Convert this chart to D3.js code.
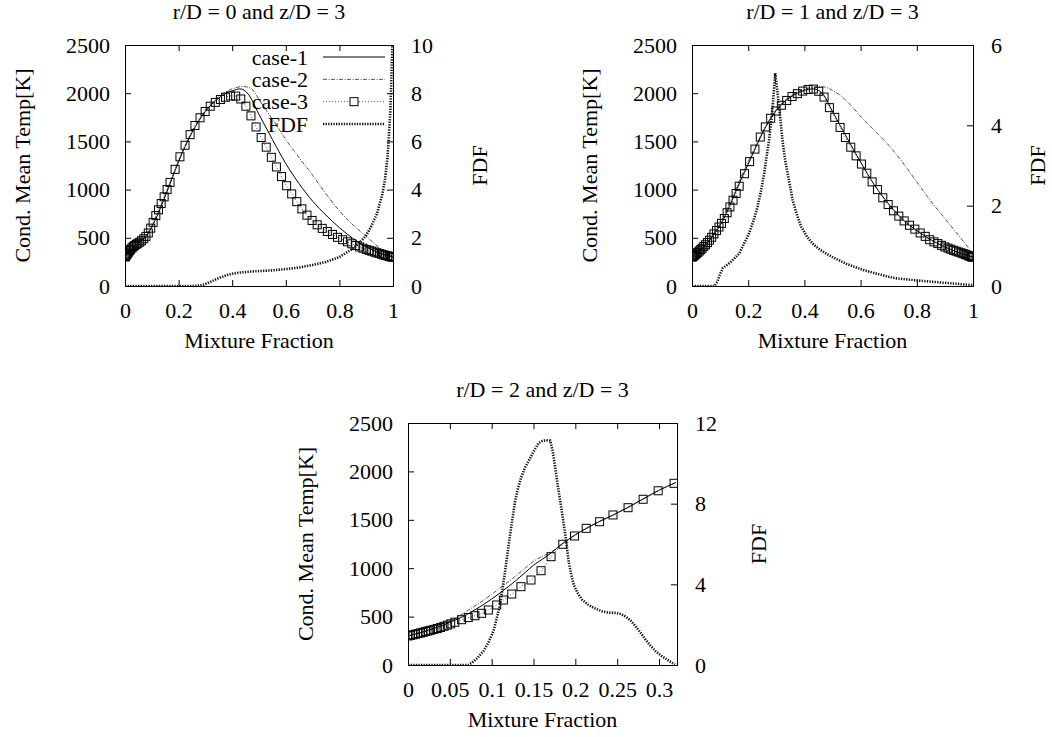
<!DOCTYPE html>
<html>
<head>
<meta charset="utf-8">
<script src="https://cdn.jsdelivr.net/npm/d3@7"></script>
<style>
  body { margin: 0; background: #fff; }
  svg text { font-family: "Liberation Serif", "Times New Roman", serif; font-size: 22px; fill: #000; }
</style>
</head>
<body>
<div id="chart"></div>
<script>
// mixture fraction grid of the case-3 points (top panels)
const zGridTop = [0, 0.002, 0.004, 0.007, 0.01, 0.013, 0.017, 0.021, 0.026, 0.031, 0.036, 0.042, 0.048, 0.055,
  0.062, 0.07, 0.078, 0.087, 0.096, 0.105, 0.115, 0.125, 0.135, 0.146, 0.157, 0.168, 0.187, 0.205, 0.224,
  0.243, 0.261, 0.28, 0.299, 0.318, 0.337, 0.356, 0.375, 0.394, 0.413, 0.432, 0.451, 0.47, 0.489, 0.508,
  0.527, 0.546, 0.565, 0.584, 0.603, 0.622, 0.641, 0.66, 0.679, 0.698, 0.717, 0.736, 0.755, 0.774, 0.793,
  0.812, 0.83, 0.846, 0.861, 0.875, 0.888, 0.9, 0.911, 0.921, 0.931, 0.94, 0.949, 0.957, 0.965, 0.972,
  0.979, 0.985, 0.99, 0.994, 0.997, 1.0];

// r/D = 0
const p1Case3 = [300, 308, 316, 328, 340, 352, 366, 380, 395, 408, 420, 432, 443, 455, 470, 490, 515, 550,
  600, 660, 730, 790, 855, 925, 1000, 1075, 1210, 1340, 1460, 1570, 1665, 1745, 1810, 1865, 1905, 1935,
  1958, 1972, 1970, 1940, 1865, 1765, 1650, 1540, 1440, 1335, 1235, 1135, 1040, 955, 875, 800, 735, 680,
  635, 598, 565, 535, 505, 480, 458, 438, 420, 405, 392, 380, 370, 361, 352, 344, 337, 330, 323, 318, 313,
  308, 305, 302, 301, 300];
const p1Case1 = [[0, 300], [0.02, 360], [0.04, 420], [0.06, 460], [0.08, 520], [0.1, 610], [0.125, 760],
  [0.15, 930], [0.175, 1110], [0.2, 1290], [0.25, 1590], [0.3, 1810], [0.35, 1950], [0.4, 2025], [0.43, 2045],
  [0.46, 1990], [0.5, 1780], [0.55, 1520], [0.6, 1270], [0.65, 1060], [0.7, 880], [0.75, 735], [0.8, 605],
  [0.85, 495], [0.9, 405], [0.95, 342], [1, 300]];
const p1Case2 = [[0, 300], [0.02, 362], [0.04, 425], [0.06, 468], [0.08, 530], [0.1, 625], [0.125, 775],
  [0.15, 945], [0.175, 1125], [0.2, 1300], [0.25, 1600], [0.3, 1825], [0.35, 1965], [0.4, 2045], [0.44, 2070],
  [0.47, 2050], [0.5, 1935], [0.53, 1810], [0.56, 1690], [0.6, 1520], [0.65, 1330], [0.7, 1150], [0.75, 955],
  [0.8, 780], [0.85, 635], [0.9, 515], [0.95, 395], [0.98, 335], [1, 305]];
const p1Fdf = [[0, 0], [0.25, 0], [0.28, 0.02], [0.3, 0.08], [0.32, 0.18], [0.34, 0.28], [0.36, 0.37],
  [0.38, 0.45], [0.4, 0.51], [0.43, 0.56], [0.46, 0.59], [0.5, 0.62], [0.55, 0.65], [0.6, 0.7], [0.65, 0.77],
  [0.7, 0.87], [0.75, 1.0], [0.8, 1.2], [0.85, 1.55], [0.88, 1.85], [0.9, 2.1], [0.92, 2.5], [0.94, 3.0],
  [0.96, 3.8], [0.97, 4.4], [0.98, 5.4], [0.99, 7.2], [0.995, 9], [1, 11]];

// r/D = 1
const p2Case3 = [300, 304, 308, 315, 322, 330, 340, 350, 363, 377, 392, 410, 428, 450, 475, 505, 540, 575,
  612, 650, 700, 760, 820, 890, 960, 1035, 1165, 1290, 1420, 1545, 1650, 1740, 1815, 1875, 1925, 1965, 1995,
  2022, 2038, 2043, 2020, 1960, 1850, 1750, 1645, 1540, 1440, 1350, 1265, 1170, 1080, 1000, 915, 845, 780,
  725, 675, 630, 590, 550, 515, 480, 458, 440, 422, 405, 393, 381, 370, 361, 352, 344, 336, 328, 320, 313,
  307, 303, 301, 300];
const p2Case1 = [[0, 300], [0.03, 370], [0.06, 465], [0.08, 545], [0.1, 630], [0.125, 775], [0.15, 940],
  [0.175, 1110], [0.2, 1265], [0.225, 1425], [0.25, 1580], [0.275, 1715], [0.3, 1820], [0.325, 1900],
  [0.35, 1960], [0.375, 2000], [0.4, 2030], [0.43, 2045], [0.45, 2030], [0.47, 1975], [0.5, 1810],
  [0.55, 1545], [0.6, 1285], [0.65, 1045], [0.7, 850], [0.75, 690], [0.8, 575], [0.85, 480], [0.9, 405],
  [0.95, 345], [1, 300]];
const p2Case2 = [[0, 300], [0.03, 372], [0.06, 475], [0.08, 560], [0.1, 650], [0.125, 800], [0.15, 970],
  [0.175, 1135], [0.2, 1290], [0.25, 1590], [0.3, 1830], [0.35, 1970], [0.4, 2040], [0.45, 2068], [0.47, 2065],
  [0.5, 2030], [0.55, 1920], [0.6, 1760], [0.65, 1610], [0.7, 1460], [0.75, 1280], [0.8, 1080], [0.85, 880],
  [0.9, 700], [0.95, 520], [0.98, 410], [1, 330]];
const p2Fdf = [[0, 0], [0.08, 0], [0.09, 0.1], [0.1, 0.3], [0.11, 0.45], [0.12, 0.5], [0.135, 0.58],
  [0.15, 0.68], [0.168, 0.81], [0.185, 1.05], [0.203, 1.31], [0.22, 1.65], [0.233, 1.97], [0.245, 2.35],
  [0.257, 2.81], [0.265, 3.2], [0.274, 3.63], [0.282, 4.1], [0.289, 4.63], [0.296, 5.3], [0.303, 4.9],
  [0.31, 4.46], [0.322, 3.63], [0.33, 3.2], [0.34, 2.81], [0.35, 2.45], [0.358, 2.14], [0.372, 1.8],
  [0.388, 1.48], [0.41, 1.22], [0.429, 1.06], [0.45, 0.93], [0.477, 0.81], [0.5, 0.72], [0.55, 0.55],
  [0.609, 0.4], [0.65, 0.32], [0.7, 0.23], [0.728, 0.19], [0.8, 0.14], [0.847, 0.11], [0.9, 0.08],
  [0.95, 0.05], [1, 0.02]];

// r/D = 2
const zGridBot = [0, 0.003, 0.006, 0.009, 0.012, 0.015, 0.018, 0.021, 0.024, 0.027, 0.031, 0.035, 0.039,
  0.043, 0.047, 0.051, 0.056, 0.064, 0.072, 0.08, 0.088, 0.096, 0.106, 0.114, 0.124, 0.135, 0.147, 0.159,
  0.171, 0.185, 0.199, 0.213, 0.229, 0.245, 0.263, 0.281, 0.299, 0.318];
const p3Case3 = [300, 306, 312, 318, 325, 331, 338, 345, 352, 359, 368, 377, 388, 400, 412, 425, 442, 468,
  490, 509, 534, 568, 620, 671, 733, 809, 878, 974, 1119, 1247, 1333, 1412, 1480, 1550, 1625, 1712, 1800, 1877];
const p3Case1 = [[0, 300], [0.01, 322], [0.02, 348], [0.03, 375], [0.04, 405], [0.05, 440], [0.06, 478],
  [0.07, 520], [0.08, 570], [0.09, 623], [0.1, 682], [0.11, 744], [0.12, 810], [0.13, 880], [0.14, 955],
  [0.15, 1030], [0.16, 1090], [0.17, 1150], [0.184, 1250], [0.2, 1345], [0.214, 1415], [0.229, 1484],
  [0.246, 1553], [0.263, 1629], [0.281, 1715], [0.3, 1805], [0.32, 1885]];
const p3Case2 = [[0, 300], [0.02, 350], [0.04, 412], [0.05, 452], [0.06, 500], [0.07, 555], [0.08, 610],
  [0.09, 668], [0.1, 730], [0.11, 795], [0.12, 860], [0.13, 928], [0.14, 1000], [0.15, 1071], [0.16, 1120],
  [0.17, 1160], [0.184, 1250], [0.2, 1345], [0.214, 1415], [0.229, 1484], [0.246, 1553], [0.263, 1629],
  [0.281, 1715], [0.3, 1805], [0.32, 1885]];
const p3Fdf = [[0, 0], [0.072, 0], [0.076, 0.1], [0.083, 0.35], [0.09, 0.68], [0.096, 1.1], [0.102, 1.67],
  [0.106, 2.3], [0.11, 2.99], [0.113, 3.8], [0.116, 4.64], [0.119, 5.55], [0.122, 6.46], [0.125, 7.3],
  [0.128, 8.12], [0.131, 8.7], [0.135, 9.27], [0.14, 9.8], [0.146, 10.26], [0.151, 10.65], [0.156, 11.0],
  [0.16, 11.1], [0.165, 11.15], [0.17, 11.12], [0.173, 10.6], [0.176, 9.77], [0.179, 8.9], [0.182, 8.12],
  [0.185, 7.3], [0.188, 6.46], [0.19, 5.8], [0.192, 5.14], [0.195, 4.5], [0.198, 3.98], [0.203, 3.55],
  [0.208, 3.24], [0.215, 3.0], [0.222, 2.83], [0.232, 2.66], [0.24, 2.6], [0.248, 2.58], [0.254, 2.53],
  [0.26, 2.41], [0.266, 2.2], [0.272, 1.92], [0.278, 1.6], [0.284, 1.25], [0.29, 0.95], [0.296, 0.68],
  [0.303, 0.45], [0.31, 0.26], [0.315, 0.12], [0.319, 0.02]];

// ticks
const tempTicks = [0, 500, 1000, 1500, 2000, 2500];
const zTicksTop = [0, 0.2, 0.4, 0.6, 0.8, 1];
const zTicksBot = [0, 0.05, 0.1, 0.15, 0.2, 0.25, 0.3];
const fdfTicks1 = [0, 2, 4, 6, 8, 10];
const fdfTicks2 = [0, 2, 4, 6];
const fdfTicks3 = [0, 4, 8, 12];
const legendNames = ["case-1", "case-2", "case-3", "FDF"];

/*
SVG
*/
const width = 1052, height = 737;
const svg = d3.select("#chart").append("svg")
  .attr("width", width)
  .attr("height", height);

const panels = [
  { id: 1, title: "r/D = 0 and z/D = 3", x0: 125, x1: 393, y0: 45, y1: 286, zMax: 1, zTicks: zTicksTop,
    fdfMax: 10, fdfTicks: fdfTicks1, fdfLabelX: 487, grid: zGridTop,
    case1: p1Case1, case2: p1Case2, case3: p1Case3, fdf: p1Fdf, legend: true },
  { id: 2, title: "r/D = 1 and z/D = 3", x0: 692, x1: 973, y0: 45, y1: 286, zMax: 1, zTicks: zTicksTop,
    fdfMax: 6, fdfTicks: fdfTicks2, fdfLabelX: 1045, grid: zGridTop,
    case1: p2Case1, case2: p2Case2, case3: p2Case3, fdf: p2Fdf, legend: false },
  { id: 3, title: "r/D = 2 and z/D = 3", x0: 408, x1: 677, y0: 423, y1: 665, zMax: 0.3215, zTicks: zTicksBot,
    fdfMax: 12, fdfTicks: fdfTicks3, fdfLabelX: 766, grid: zGridBot,
    case1: p3Case1, case2: p3Case2, case3: p3Case3, fdf: p3Fdf, legend: false }
];

const styles = {
  case1: { stroke: "#000", width: 1, dash: null },
  case2: { stroke: "#222", width: 0.8, dash: "4,1.5,1,1.5" },
  case3: { stroke: "#333", width: 0.8, dash: "1,2" },
  fdf: { stroke: "#111", width: 2.6, dash: "1.3,1.3" }
};

function styleLine(sel, s) {
  sel.attr("fill", "none")
    .attr("stroke", s.stroke)
    .attr("stroke-width", s.width)
    .attr("stroke-dasharray", s.dash);
}

panels.forEach(function (p) {
  const xScale = d3.scaleLinear().domain([0, p.zMax]).range([p.x0, p.x1]);
  const yScale = d3.scaleLinear().domain([0, 2500]).range([p.y1, p.y0]);
  const y2Scale = d3.scaleLinear().domain([0, p.fdfMax]).range([p.y1, p.y0]);

  const g = svg.append("g");

  svg.append("clipPath").attr("id", "clip" + p.id)
    .append("rect")
    .attr("x", p.x0).attr("y", p.y0)
    .attr("width", p.x1 - p.x0).attr("height", p.y1 - p.y0);

  /*
  AXES
  */
  const fmt = d3.format("");
  const axes = [
    { ax: d3.axisLeft(yScale).tickValues(tempTicks).tickFormat(fmt).tickSize(-6).tickPadding(15), tr: `translate(${p.x0},0)` },
    { ax: d3.axisRight(y2Scale).tickValues(p.fdfTicks).tickFormat(fmt).tickSize(-6).tickPadding(18), tr: `translate(${p.x1},0)` },
    { ax: d3.axisBottom(xScale).tickValues(p.zTicks).tickFormat(fmt).tickSize(-6).tickPadding(16), tr: `translate(0,${p.y1})` },
    { ax: d3.axisTop(xScale).tickValues(p.zTicks).tickFormat("").tickSize(-6), tr: `translate(0,${p.y0})` }
  ];
  axes.forEach(function (a) {
    const ag = g.append("g").attr("transform", a.tr).call(a.ax);
    ag.attr("font-size", null).attr("font-family", null);
    ag.select(".domain").remove();
    ag.selectAll(".tick line").attr("stroke", "#000").attr("stroke-width", 1);
  });

  g.append("rect")
    .attr("x", p.x0 + 0.5).attr("y", p.y0 + 0.5)
    .attr("width", p.x1 - p.x0).attr("height", p.y1 - p.y0)
    .attr("fill", "none").attr("stroke", "#000").attr("stroke-width", 1);

  // titles and axis labels
  g.append("text")
    .attr("x", (p.x0 + p.x1) / 2).attr("y", p.y0 - 26)
    .attr("text-anchor", "middle")
    .text(p.title);

  g.append("text")
    .attr("x", (p.x0 + p.x1) / 2).attr("y", p.y1 + 62)
    .attr("text-anchor", "middle")
    .text("Mixture Fraction");

  g.append("text")
    .attr("transform", `translate(${p.x0 - 95},${(p.y0 + p.y1) / 2}) rotate(-90)`)
    .attr("text-anchor", "middle")
    .text("Cond. Mean Temp[K]");

  g.append("text")
    .attr("transform", `translate(${p.fdfLabelX},${(p.y0 + p.y1) / 2}) rotate(-90)`)
    .attr("text-anchor", "middle")
    .text("FDF");

  /*
  CURVES
  */
  const plot = g.append("g").attr("clip-path", `url(#clip${p.id})`);

  const tLine = d3.line()
    .x(d => xScale(d[0]))
    .y(d => yScale(d[1]))
    .curve(d3.curveMonotoneX);

  const fLine = d3.line()
    .x(d => xScale(d[0]))
    .y(d => y2Scale(d[1]))
    .curve(d3.curveLinear);

  const case3Pts = p.grid.map((z, i) => [z, p.case3[i]]);

  plot.append("path").attr("d", tLine(p.case1)).call(styleLine, styles.case1);
  plot.append("path").attr("d", tLine(p.case2)).call(styleLine, styles.case2);
  plot.append("path").attr("d", tLine(case3Pts)).call(styleLine, styles.case3);

  plot.selectAll(".sq")
    .data(case3Pts)
    .enter()
    .append("rect")
    .attr("class", "sq")
    .attr("x", d => xScale(d[0]) - 4)
    .attr("y", d => yScale(d[1]) - 4)
    .attr("width", 8).attr("height", 8)
    .attr("fill", "none")
    .attr("stroke", "#000")
    .attr("stroke-width", 1);

  plot.append("path").attr("d", fLine(p.fdf)).call(styleLine, styles.fdf);

  /*
  LEGEND
  */
  if (p.legend) {
    const keys = ["case1", "case2", "case3", "fdf"];
    const legY = d3.scalePoint().domain(legendNames).range([57, 124]);
    legendNames.forEach(function (name, i) {
      const y = legY(name);
      g.append("text")
        .attr("x", 308).attr("y", y)
        .attr("dy", "0.35em")
        .attr("text-anchor", "end")
        .text(name);
      g.append("line")
        .attr("x1", 323).attr("x2", 385)
        .attr("y1", y).attr("y2", y)
        .call(styleLine, styles[keys[i]]);
      if (keys[i] === "case3") {
        g.append("rect")
          .attr("x", 350).attr("y", y - 4)
          .attr("width", 8).attr("height", 8)
          .attr("fill", "#fff")
          .attr("stroke", "#000");
      }
    });
  }
});
</script>
</body>
</html>
